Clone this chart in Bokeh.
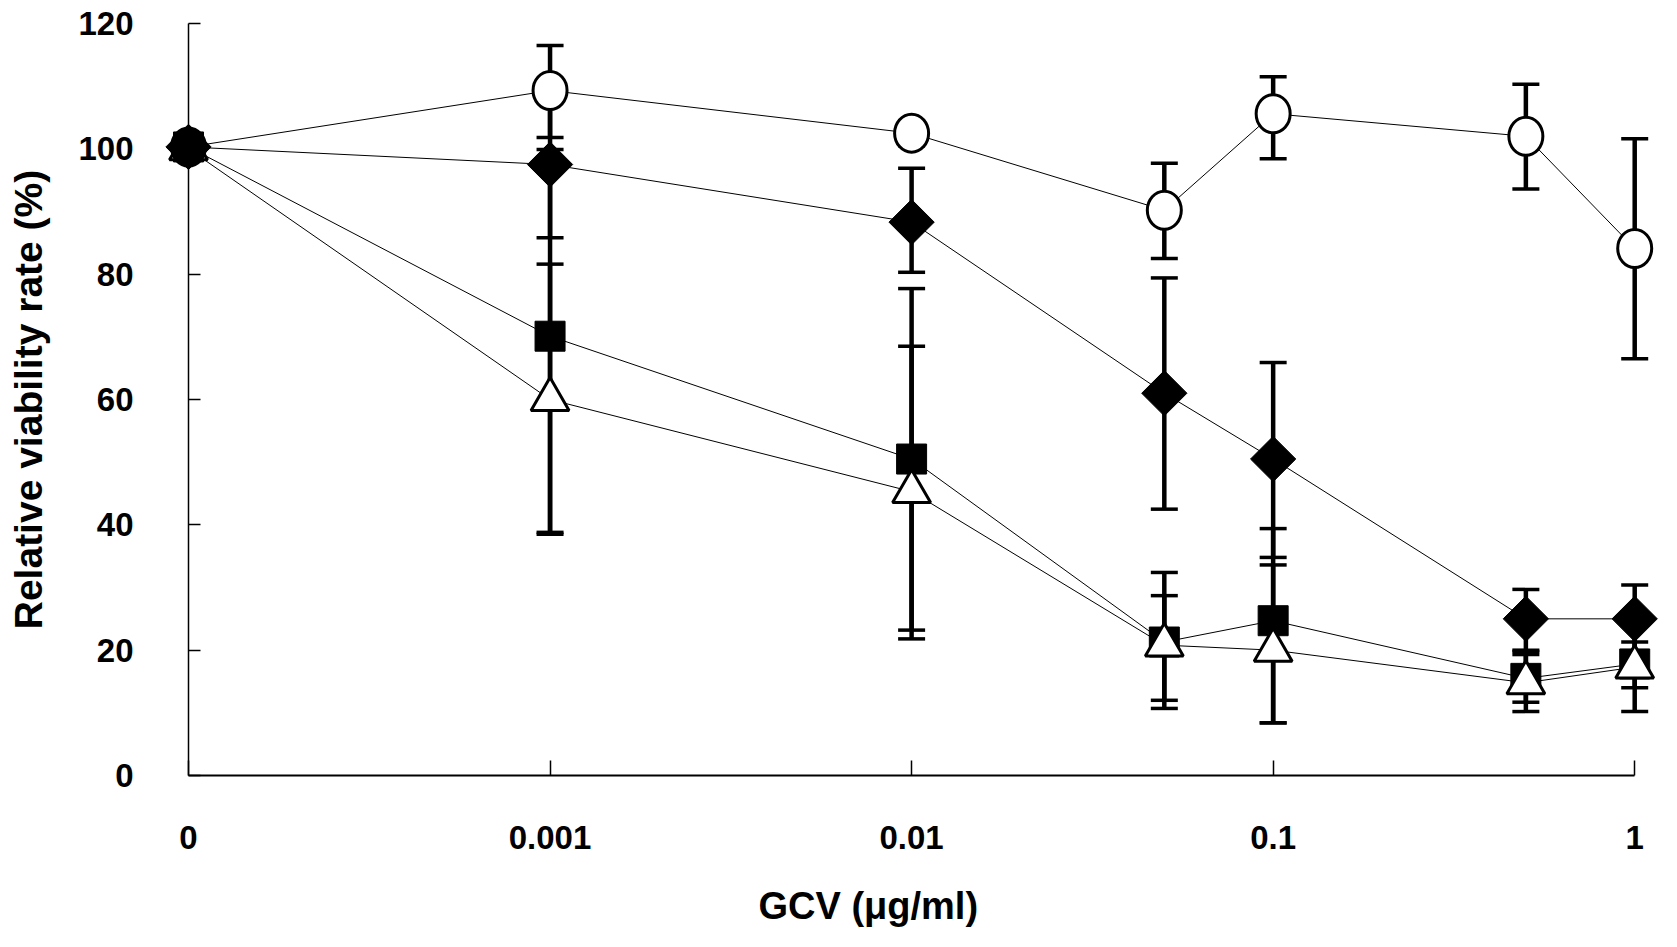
import numpy as np

from bokeh.embed import file_html
from bokeh.models import ColumnDataSource, FixedTicker, Range1d, TeeHead, Title, Whisker
from bokeh.plotting import figure
from bokeh.resources import INLINE

# GCV dose (ug/ml); the "0" dose is drawn where 0.0001 would be on the log axis
doses = [0, 0.001, 0.01, 0.05, 0.1, 0.5, 1]
tick_doses = [0, 0.001, 0.01, 0.1, 1]
tick_labels = ["0", "0.001", "0.01", "0.1", "1"]
y_ticks = [0, 20, 40, 60, 80, 100, 120]
ZERO_AT = 1e-4

# relative viability (%), mean and error bar ends
circle_mean = [100.3, 109.3, 102.5, 90.2, 105.6, 102.0, 84.1]
circle_hi = [np.nan, 116.5, 104.5, 97.7, 111.5, 110.3, 101.6]
circle_lo = [np.nan, 101.8, 100.5, 82.5, 98.4, 93.6, 66.5]

diamond_mean = [100.3, 97.5, 88.3, 61.0, 50.5, 25.0, 25.0]
diamond_hi = [np.nan, 109.2, 96.9, 79.4, 65.9, 29.7, 30.4]
diamond_lo = [np.nan, 85.8, 80.3, 42.5, 34.8, 20.0, 19.6]

square_mean = [100.3, 70.1, 50.5, 21.3, 24.7, 15.5, 17.8]
square_hi = [np.nan, 99.9, 77.7, 32.4, 39.4, 19.3, 21.3]
square_lo = [np.nan, 38.8, 23.2, 10.7, 8.4, 11.7, 14.0]

triangle_mean = [100.0, 60.0, 45.3, 20.8, 20.0, 14.8, 17.3]
triangle_hi = [np.nan, 81.6, 68.5, 28.7, 33.6, 19.8, 24.4]
triangle_lo = [np.nan, 38.5, 21.8, 12.0, 8.4, 10.2, 10.2]

xs = [ZERO_AT if d == 0 else d for d in doses]

# x range runs a little past 1 so the last error bars are not cut by the frame
p = figure(width=1660, height=930, x_axis_type="log",
           x_range=Range1d(ZERO_AT, 1.12), y_range=Range1d(0, 120),
           output_backend="svg", toolbar_location=None, tools="",
           min_border_left=188, min_border_right=8,
           min_border_top=23, min_border_bottom=155)
p.outline_line_color = None
p.grid.visible = False


def add_series(mean, hi, lo):
    # thin connecting line + thick error bars with tee caps
    p.line(xs, mean, line_color="black", line_width=1)
    hi = np.array(hi)
    keep = ~np.isnan(hi)
    src = ColumnDataSource(dict(x=np.array(xs)[keep], upper=hi[keep],
                                lower=np.array(lo)[keep]))
    w = Whisker(source=src, base="x", upper="upper", lower="lower",
                dimension="height", line_color="black", line_width=4.5,
                upper_head=TeeHead(size=27, line_width=3.5, line_color="black"),
                lower_head=TeeHead(size=27, line_width=3.5, line_color="black"))
    p.add_layout(w)


add_series(square_mean, square_hi, square_lo)
add_series(triangle_mean, triangle_hi, triangle_lo)
add_series(diamond_mean, diamond_hi, diamond_lo)
add_series(circle_mean, circle_hi, circle_lo)

# markers (overlay level so the ones on the frame edges are not cut)
p.scatter(xs, square_mean, marker="square", size=30, fill_color="black",
          line_color="black", level="overlay")
p.scatter(xs, triangle_mean, marker="triangle", size=38, fill_color="white",
          line_color="black", line_width=3, level="overlay")
p.scatter(xs, diamond_mean, marker="square", angle=np.pi / 4, size=32,
          fill_color="black", line_color="black", level="overlay")
circle_fill = ["black"] + ["white"] * (len(doses) - 1)
p.ellipse(xs, circle_mean, width=34, height=38, width_units="screen",
          height_units="screen", fill_color=circle_fill, line_color="black",
          line_width=3, level="overlay")

# axes
p.xaxis.ticker = FixedTicker(ticks=[ZERO_AT if t == 0 else t for t in tick_doses])
p.xaxis.major_label_overrides = {(ZERO_AT if t == 0 else t): lab
                                 for t, lab in zip(tick_doses, tick_labels)}
p.xaxis.bounds = (ZERO_AT, 1)
p.yaxis.ticker = FixedTicker(ticks=y_ticks)

for ax in (p.xaxis, p.yaxis):
    ax.axis_line_color = "black"
    ax.major_tick_line_color = "black"
    ax.minor_tick_line_color = None
    ax.major_tick_out = 0
    ax.major_label_text_font = "Liberation Sans"
    ax.major_label_text_font_style = "bold"
    ax.major_label_text_font_size = "33px"
    ax.major_label_text_color = "black"
    ax.axis_label_text_font = "Liberation Sans"
    ax.axis_label_text_font_style = "bold"
    ax.axis_label_text_color = "black"

p.xaxis.axis_line_width = 2
p.xaxis.major_tick_line_width = 1.5
p.xaxis.major_tick_in = 15
p.xaxis.major_label_standoff = 50
# blank, tiny axis label: only there to leave a gap above the x title
p.xaxis.axis_label = " "
p.xaxis.axis_label_text_font_size = "1px"
p.xaxis.axis_label_standoff = 27

p.yaxis.axis_line_width = 1.5
p.yaxis.major_tick_line_width = 1.5
p.yaxis.major_tick_in = 12
p.yaxis.major_label_standoff = 55
p.yaxis.axis_label = "Relative viability rate (%)"
p.yaxis.axis_label_text_font_size = "39px"
p.yaxis.axis_label_standoff = 25

# x title sits a bit left of the frame centre in the original
x_title = Title(text="GCV (μg/ml)", align="left", offset=570, standoff=0,
                text_font="Liberation Sans", text_font_style="bold",
                text_font_size="38px", text_color="black")
p.add_layout(x_title, "below")

open("out.html", "w").write(file_html(p, INLINE))
